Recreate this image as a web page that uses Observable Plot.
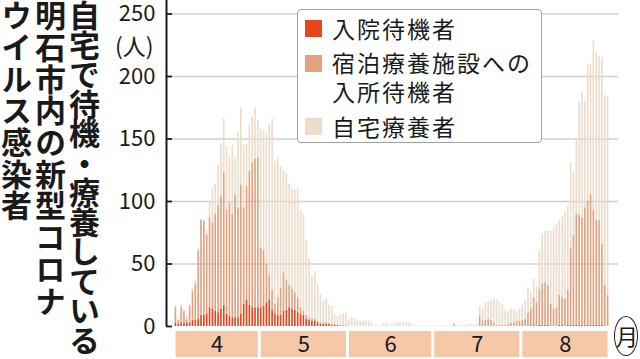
<!DOCTYPE html>
<html><head><meta charset="utf-8">
<script src="https://cdn.jsdelivr.net/npm/d3@7"></script>
<script src="https://cdn.jsdelivr.net/npm/@observablehq/plot@0.6"></script>
<style>
body{margin:0;background:#fff;}
#wrap{position:relative;width:640px;height:359px;overflow:hidden;font-family:"Noto Sans CJK JP","Noto Sans",sans-serif;color:#1a1a1a;background:#fff;}
#chart{position:absolute;left:0;top:0;}
.col{position:absolute;top:0;writing-mode:vertical-rl;text-orientation:upright;font-weight:700;font-size:31px;line-height:32px;white-space:nowrap;letter-spacing:0.7px;}
#unit{position:absolute;left:115px;top:33px;font-size:23px;line-height:24px;}
#legend{position:absolute;left:297px;top:9px;width:245px;height:134px;border:1px solid #a0a0a0;border-radius:4px;background:#fff;box-sizing:border-box;}
.sw{position:absolute;left:7px;width:17px;height:17px;}
.lt{position:absolute;left:34px;font-size:23px;line-height:23px;letter-spacing:2px;white-space:nowrap;}
#month{position:absolute;left:614px;top:316px;width:24px;height:40px;border:1.5px solid #222;border-radius:12px/20px;box-sizing:border-box;}
#monthT{position:absolute;left:616px;top:322px;font-size:22px;line-height:26px;}
</style></head>
<body>
<div id="wrap">
  <div id="chart"></div>
  <div class="col" style="left:68px;letter-spacing:-1.5px">自宅で待機・療養している</div>
  <div class="col" style="left:34px">明石市内の新型コロナ</div>
  <div class="col" style="left:0px">ウイルス感染者</div>
  <div id="unit">(人)</div>
  <div id="legend"></div>
  <div id="month"></div>
  <div id="monthT">月</div>
</div>
<script>
const seriesNames = ["入院待機者", "宿泊療養施設への入所待機者", "自宅療養者"];
const legendLines = [["入院待機者"], ["宿泊療養施設への", "入所待機者"], ["自宅療養者"]];
const seriesColors = ["#e5461c", "#e2a17f", "#eedccb"];
const monthLabels = ["4", "5", "6", "7", "8"];
const monthStart = [0, 30, 61, 91, 122];
const monthLength = [30, 31, 30, 31, 31];
const yTicks = [0, 50, 100, 150, 200, 250];

// daily values, April 1 - August 31
const hospitalWait = [
  3,2,3,3,3,3,5,5,6,9, 9,10,15,14,12,11,14,17,10,8, 7,7,7,10,18,21,17,15,15,15,
  15,16,19,21,13,10,9,9,12,13, 15,14,13,11,10,9,6,5,4,4, 3,2,2,2,2,1,1,1,0,0, 0,
  0,0,0,0,0,0,0,0,0,0, 0,0,0,0,0,0,0,0,0,0, 0,0,0,0,0,0,0,0,0,0,
  0,0,0,0,0,0,0,0,0,0, 0,0,0,0,0,0,0,0,0,0, 0,0,0,0,0,0,0,0,0,0, 0,
  0,0,0,0,1,0,1,1,1,1, 0,0,0,1,1,0,1,1,1,1, 1,1,1,1,1,1,1,1,1,0, 0
];
const hotelWait = [
  12,3,12,9,3,13,23,29,54,76, 75,63,72,69,78,86,90,106,83,91, 83,98,88,103,77,91,107,116,119,120,
  48,45,31,20,16,8,14,22,31,24, 18,16,14,12,5,3,3,2,2,2, 1,1,1,1,0,1,1,0,1,1, 1,
  0,0,0,0,0,0,0,0,0,0, 0,0,0,0,0,0,0,0,0,0, 0,0,0,0,0,0,0,0,0,0,
  0,0,0,0,0,0,0,2,0,0, 0,0,0,0,0,0,8,4,5,6, 5,3,1,1,1,1,2,3,3,4, 4,
  5,6,11,14,22,19,29,33,34,32, 18,14,15,24,22,22,28,62,72,89, 88,86,94,99,105,92,84,84,65,33, 25
];
const homeCare = [
  2,1,2,2,2,2,3,3,3,1, 1,3,13,27,24,32,42,43,51,36, 55,30,60,62,50,34,37,36,41,30,
  95,96,104,121,137,114,112,97,81,85, 81,80,83,87,77,78,60,47,34,38, 30,23,17,19,15,14,7,7,8,9, 10,
  5,7,6,5,4,4,5,4,3,1, 0.5,0.5,2,2,1,1,2,3,3.5,3.5, 3.5,3,2,1,0.5,0.5,0.5,0.5,0.5,0.5,
  0.5,0.5,0.5,0.5,0.5,0.5,0.5,0,0.5,0.5, 1,1,1.5,1.5,1,2,8,10,14,14, 16,19,20,18,16,12,10,11,10,8, 10,
  12,15,20,13,15,13,31,40,41,43, 58,64,66,60,65,70,67,68,51,59, 90,100,85,110,104,135,134,131,149,152, 159
];

const series = [hospitalWait, hotelWait, homeCare];
const rows = [];
hospitalWait.forEach((_, i) => {
  series.forEach((arr, k) => rows.push({day: i, dayEnd: i + 1, series: seriesNames[k], value: arr[i]}));
});
const months = monthLabels.map((m, k) => ({
  label: m, start: monthStart[k], end: monthStart[k] + monthLength[k], mid: monthStart[k] + monthLength[k] / 2
}));

const xDomain = [-2.814, 163.9];
const yDomain = [-26.4, 260.8];
const font = "'Noto Sans CJK JP','Noto Sans',sans-serif";

const chart = Plot.plot({
  width: 640, height: 359,
  marginLeft: 166, marginRight: 0, marginTop: 0, marginBottom: 0,
  x: {domain: xDomain, axis: null},
  y: {domain: yDomain, axis: null},
  color: {domain: seriesNames, range: seriesColors},
  style: {fontFamily: font, background: "transparent", color: "#1a1a1a", overflow: "visible"},
  marks: [
    Plot.ruleY(yTicks.filter(t => t > 0), {x1: -0.7, x2: 156.2, stroke: "#d0d0d0", strokeWidth: 1.3}),
    Plot.rectY(rows, Plot.stackY({x: "day", x1: "day", x2: "dayEnd", y: "value", fill: "series", insetLeft: 0.6, insetRight: 0.6})),
    Plot.rect(months, {x1: "start", x2: "end", y1: -4, y2: -24.8, fill: "#f6c8a8", insetLeft: 1.5, insetRight: 1.5}),
    Plot.text(months, {x: "mid", y: -14.4, text: "label", fontSize: 22, fill: "#1a1a1a"}),
    Plot.ruleY(yTicks, {x1: xDomain[0], x2: -0.7, stroke: "#1a1a1a", strokeWidth: 1.8}),
    Plot.ruleX([xDomain[0]], {y1: 0, y2: yDomain[1], stroke: "#1a1a1a", strokeWidth: 2}),
    Plot.text(yTicks, {x: xDomain[0], y: d => d, text: d => String(d), textAnchor: "end", dx: -11, fontSize: 22, fill: "#1a1a1a"})
  ]
});
document.getElementById("chart").appendChild(chart);

// legend
const legend = document.getElementById("legend");
const swTops = [10, 45, 108];
const lineTops = [[6.5], [40.5, 69.5], [104.5]];
seriesNames.forEach((name, k) => {
  const sw = document.createElement("div");
  sw.className = "sw";
  sw.style.top = swTops[k] + "px";
  sw.style.background = seriesColors[k];
  legend.appendChild(sw);
  legendLines[k].forEach((line, j) => {
    const t = document.createElement("div");
    t.className = "lt";
    t.style.top = lineTops[k][j] + "px";
    t.textContent = line;
    legend.appendChild(t);
  });
});
</script>
</body></html>
